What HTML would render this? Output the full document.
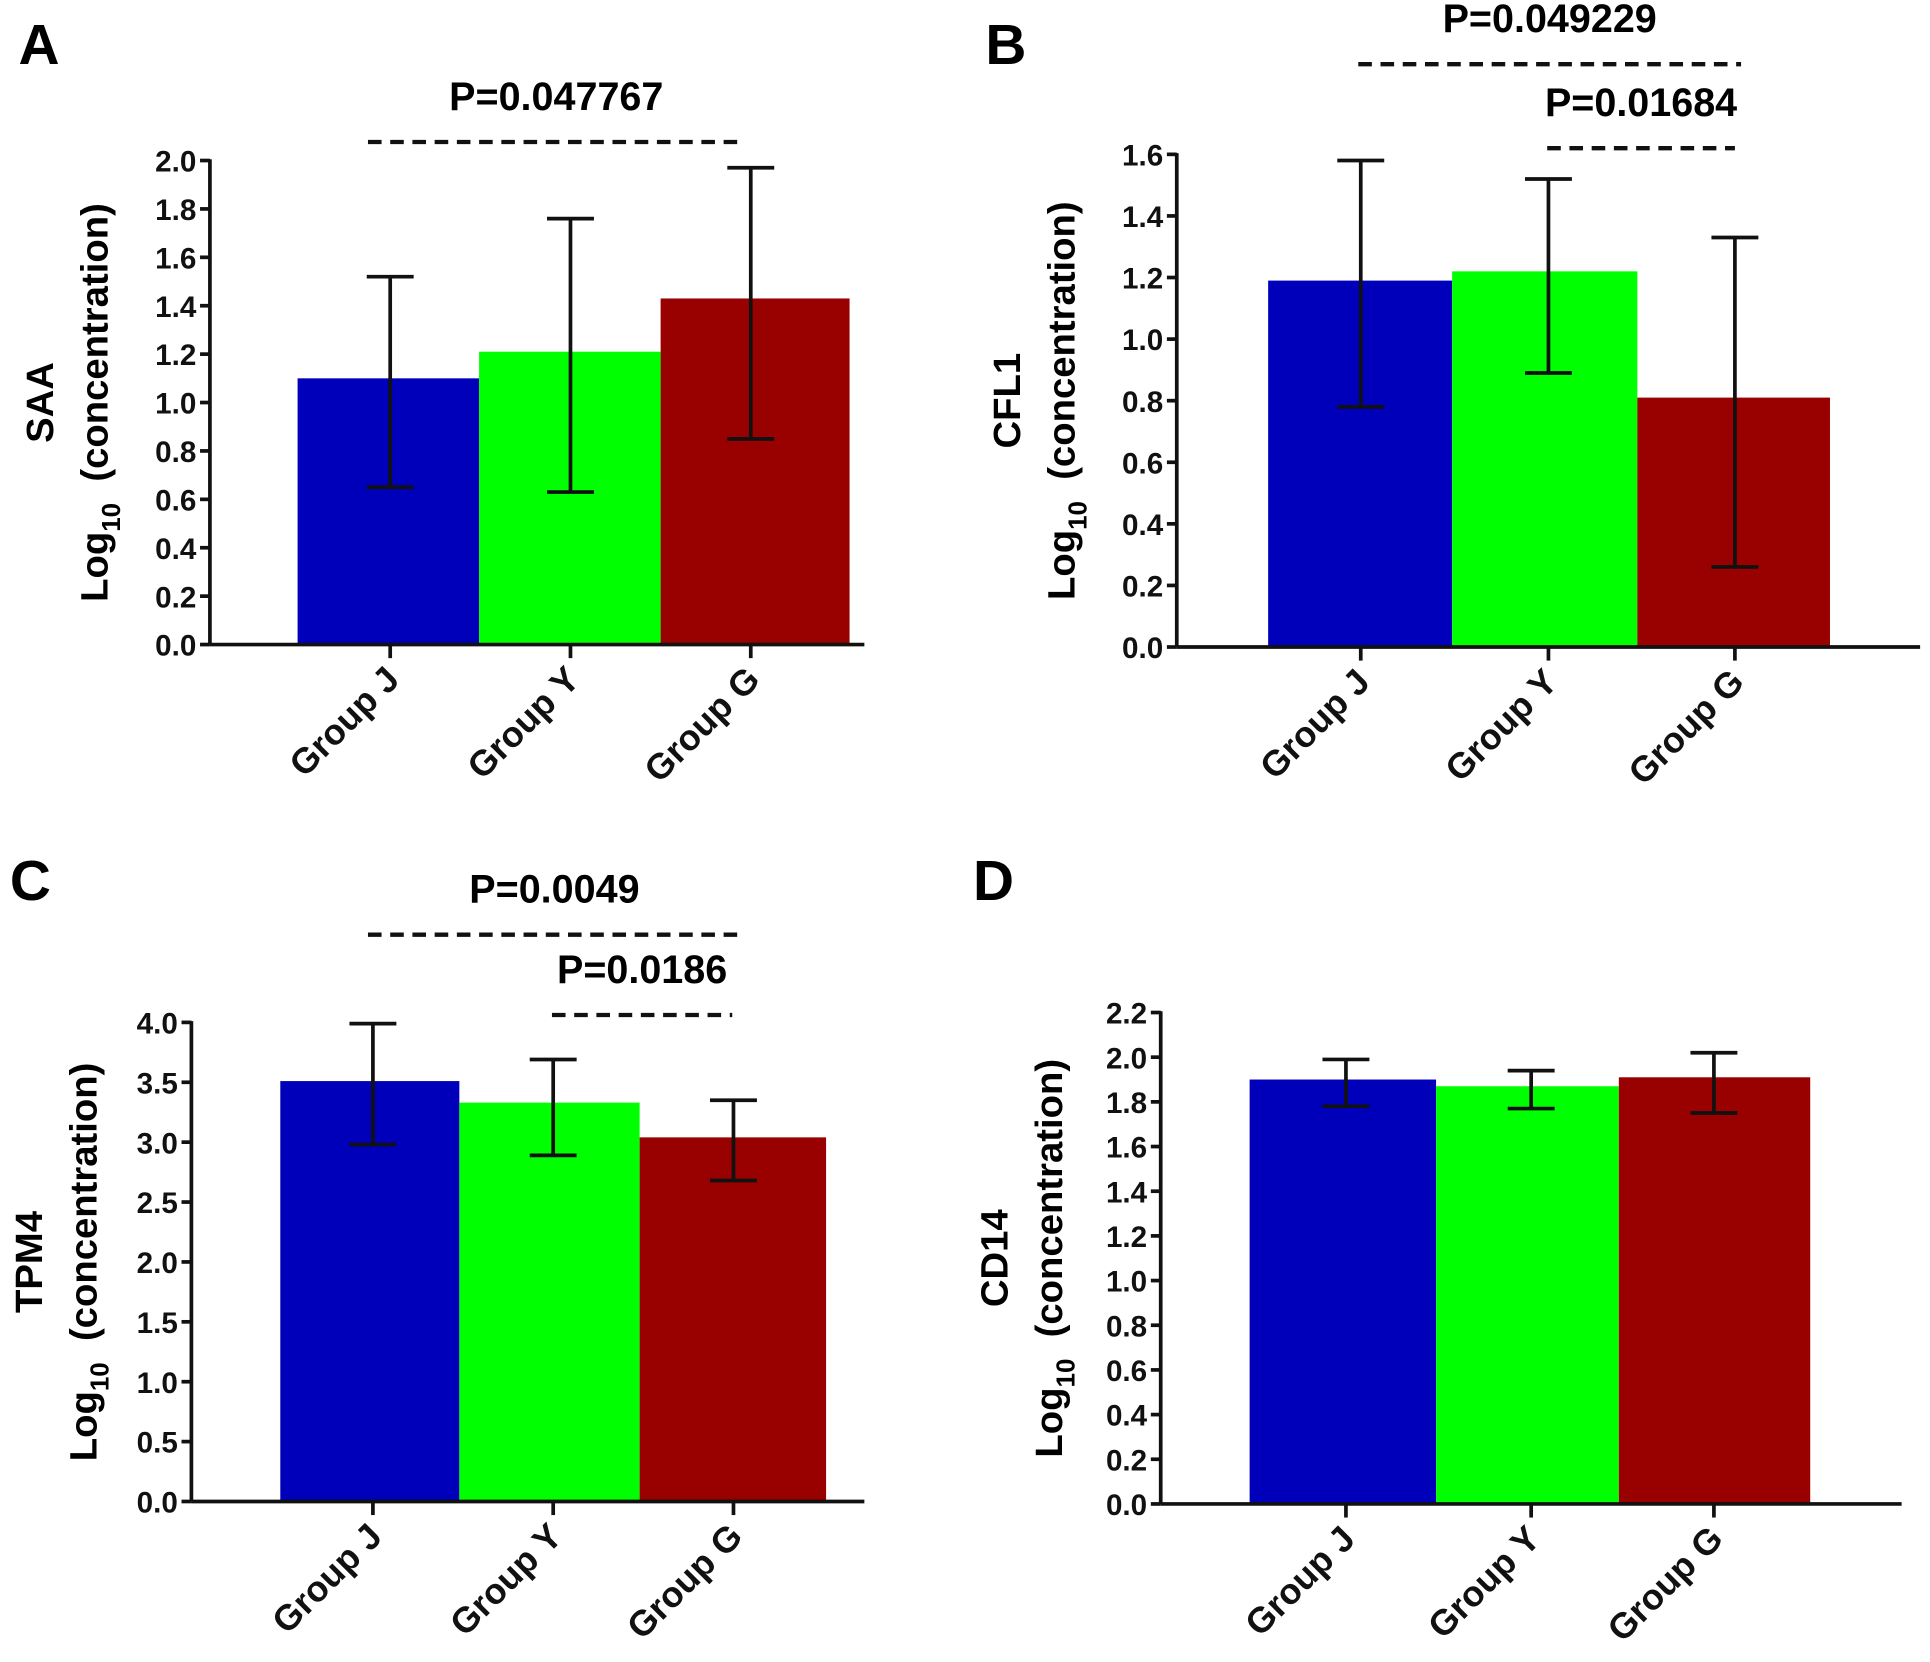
<!DOCTYPE html>
<html><head><meta charset="utf-8"><style>
html,body{margin:0;padding:0;background:#fff;}
svg{display:block;font-family:"Liberation Sans",Arial,sans-serif;font-weight:bold;}
</style></head><body>
<svg id="fig" width="1930" height="1662" viewBox="0 0 1563 1346" preserveAspectRatio="none" xmlns="http://www.w3.org/2000/svg"></svg>
<script>
const categories = ["Group J","Group Y","Group G"];
const colors = ["#0000bb","#00ff00","#990000"];
const saaMeans = [1.10,1.21,1.43];
const saaLow = [0.65,0.63,0.85];
const saaHigh = [1.52,1.76,1.97];
const saaTicks = ["0.0","0.2","0.4","0.6","0.8","1.0","1.2","1.4","1.6","1.8","2.0"];
const cfl1Means = [1.19,1.22,0.81];
const cfl1Low = [0.78,0.89,0.26];
const cfl1High = [1.58,1.52,1.33];
const cfl1Ticks = ["0.0","0.2","0.4","0.6","0.8","1.0","1.2","1.4","1.6"];
const tpm4Means = [3.51,3.33,3.04];
const tpm4Low = [2.98,2.89,2.68];
const tpm4High = [3.99,3.69,3.35];
const tpm4Ticks = ["0.0","0.5","1.0","1.5","2.0","2.5","3.0","3.5","4.0"];
const cd14Means = [1.90,1.87,1.91];
const cd14Low = [1.78,1.77,1.75];
const cd14High = [1.99,1.94,2.02];
const cd14Ticks = ["0.0","0.2","0.4","0.6","0.8","1.0","1.2","1.4","1.6","1.8","2.0","2.2"];
const saaPvals = ["P=0.047767"];
const cfl1Pvals = ["P=0.049229","P=0.01684"];
const tpm4Pvals = ["P=0.0049","P=0.0186"];

const NS="http://www.w3.org/2000/svg";
const svg=document.getElementById('fig');
function el(tag,attrs,parent,text){const e=document.createElementNS(NS,tag);for(const k in attrs)e.setAttribute(k,attrs[k]);if(text!==undefined)e.textContent=text;(parent||svg).appendChild(e);return e;}

function panel(p){
  const g=el('g',{});
  
  
  const ymax=parseFloat(p.ticks[p.ticks.length-1]);
  const y=v=>p.y0-(v/ymax)*(p.y0-p.ytop);
  const lab=el('text',{x:p.labX,y:p.labY,'font-size':46},g,p.id);
  
  
  p.means.forEach((m,i)=>{
    const r=el('rect',{x:p.barX[i],y:y(m),width:p.barX[i+1]-p.barX[i],height:p.y0-y(m),fill:colors[i]},g);
    
    
  });
  p.means.forEach((m,i)=>{
    const cx=p.tickX[i];
    const eg=el('g',{stroke:'#111','stroke-width':3,fill:'none'},g);
    
    
    el('line',{x1:cx,x2:cx,y1:y(p.low[i]),y2:y(p.high[i])},eg);
    el('line',{x1:cx-19,x2:cx+19,y1:y(p.low[i]),y2:y(p.low[i])},eg);
    el('line',{x1:cx-19,x2:cx+19,y1:y(p.high[i]),y2:y(p.high[i])},eg);
  });
  const ax=el('g',{stroke:'#111','stroke-width':3},g);
  
  
  el('line',{x1:p.ax,x2:p.ax,y1:p.ytop-1,y2:p.y0},ax);
  el('line',{x1:p.ax,x2:p.xend,y1:p.y0,y2:p.y0},ax);
  p.ticks.forEach(t=>{
    const v=parseFloat(t);
    el('line',{x1:p.ax-8,x2:p.ax,y1:y(v),y2:y(v)},ax);
    const tl=el('text',{x:p.ax-11,y:y(v)+9,'text-anchor':'end','font-size':24,fill:'#111',stroke:'none'},g,t);
    
    
  });
  categories.forEach((c,i)=>{
    const cx=p.tickX[i];
    el('line',{x1:cx,x2:cx,y1:p.y0,y2:p.y0+11},ax);
    const xl=el('text',{x:0,y:0,'text-anchor':'end','font-size':29,fill:'#111',transform:`translate(${cx+9},${p.y0+30}) rotate(-45)`},g,c);
    
    
  });
  const cy=(p.y0+p.ytop)/2;
  const t1=el('text',{x:0,y:0,'text-anchor':'middle','font-size':31,transform:`translate(${p.titleX},${cy}) rotate(-90)`},g,p.name);
  
  
  const t2=el('text',{x:0,y:0,'text-anchor':'middle','font-size':31,transform:`translate(${p.titleX+44},${cy}) rotate(-90)`},g);
  
  
  el('tspan',{},t2,'Log');
  el('tspan',{'font-size':21,dy:10},t2,'10');
  el('tspan',{dy:-10},t2,'\u00a0\u00a0(concentration)');
  p.pvals.forEach((pv,i)=>{
    const s=p.sig[i];
    const dl=el('line',{x1:s[0],x2:s[1],y1:s[2],y2:s[2],stroke:'#111','stroke-width':3.5,'stroke-dasharray':'11,7'},g);
    
    
    const pt=el('text',{x:(s[0]+s[1])/2,y:s[2]-26,'text-anchor':'middle','font-size':32},g,pv);
    
    
  });
}

panel({id:'A',key:'saa',name:'SAA',means:saaMeans,low:saaLow,high:saaHigh,ticks:saaTicks,pvals:saaPvals,
  labX:15,labY:52,ax:170,y0:522,ytop:130,xend:700,barX:[241,388,535,688],tickX:[316,462,608],titleX:43,
  sig:[[298,603,115]]});
panel({id:'B',key:'cfl1',name:'CFL1',means:cfl1Means,low:cfl1Low,high:cfl1High,ticks:cfl1Ticks,pvals:cfl1Pvals,
  labX:798,labY:52,ax:953,y0:524,ytop:125,xend:1555,barX:[1027,1176,1326,1482],tickX:[1102,1254,1405],titleX:826,
  sig:[[1100,1410,52],[1253,1405,120]]});
panel({id:'C',key:'tpm4',name:'TPM4',means:tpm4Means,low:tpm4Low,high:tpm4High,ticks:tpm4Ticks,pvals:tpm4Pvals,
  labX:8,labY:729,ax:155,y0:1216,ytop:828,xend:700,barX:[227,372,518,669],tickX:[302,448,594],titleX:34,
  sig:[[298,600,757],[447,593,822]]});
panel({id:'D',key:'cd14',name:'CD14',means:cd14Means,low:cd14Low,high:cd14High,ticks:cd14Ticks,pvals:[],
  labX:788,labY:729,ax:940,y0:1218,ytop:820,xend:1540,barX:[1012,1163,1311,1466],tickX:[1090,1240,1388],titleX:816,
  sig:[]});
</script>
</body></html>
